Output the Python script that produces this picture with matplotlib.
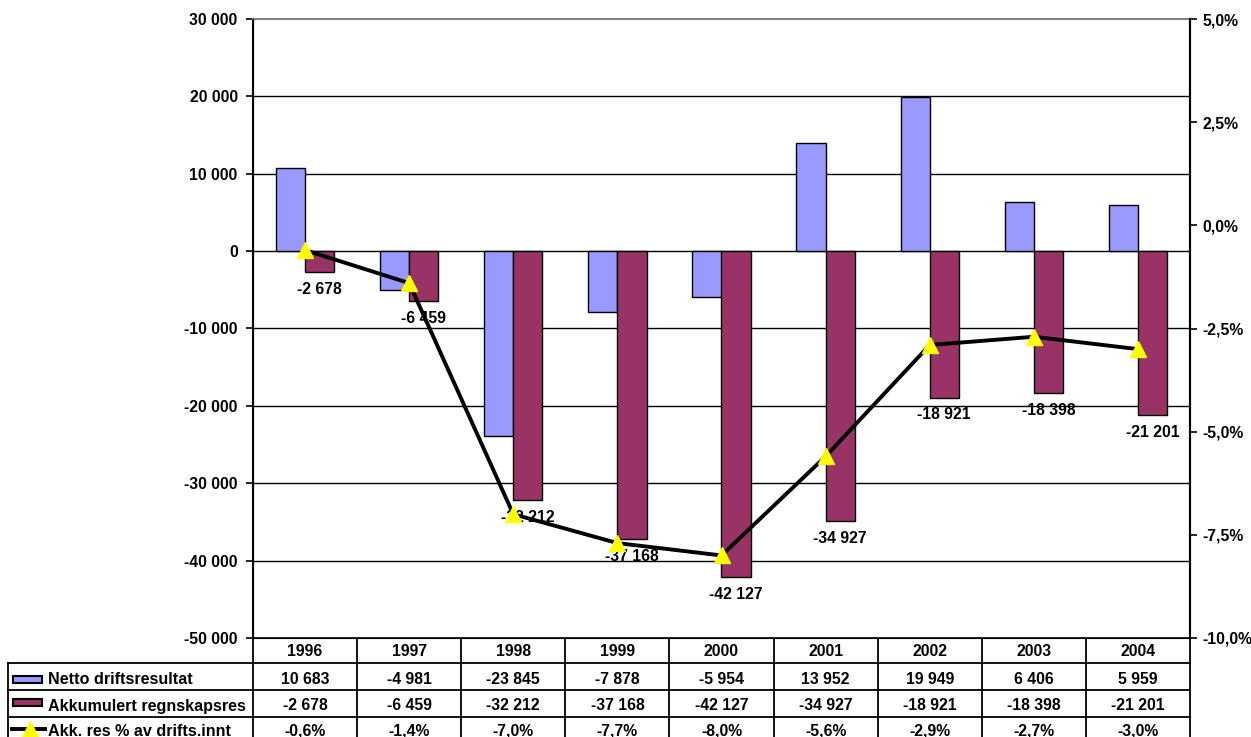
import matplotlib
matplotlib.use('Agg')
import matplotlib.pyplot as plt
from matplotlib.patches import Rectangle
from matplotlib.lines import Line2D
import numpy as np

plt.rcParams['font.family'] = ['Liberation Sans', 'DejaVu Sans']
plt.rcParams['font.weight'] = 'bold'
plt.rcParams['font.size'] = 11.3

years = ['1996', '1997', '1998', '1999', '2000', '2001', '2002', '2003', '2004']
netto = [10683, -4981, -23845, -7878, -5954, 13952, 19949, 6406, 5959]
akkumulert = [-2678, -6459, -32212, -37168, -42127, -34927, -18921, -18398, -21201]
akk_pct = [-0.6, -1.4, -7.0, -7.7, -8.0, -5.6, -2.9, -2.7, -3.0]
row_names = ['Netto driftsresultat', 'Akkumulert regnskapsres', 'Akk. res % av drifts.innt']

blue = '#9999FF'
maroon = '#993366'


def fmt_num(v):
    return '{:,}'.format(v).replace(',', ' ')


def fmt_pct(v):
    return '{:.1f}%'.format(v).replace('.', ',')


W, H = 1251, 737
fig = plt.figure(figsize=(W / 100, H / 100), dpi=100)
L, R, T, B = 253, 1190, 19, 638
ax = fig.add_axes([L / W, 1 - B / H, (R - L) / W, (B - T) / H])

x = np.arange(len(years))
w = 0.28
ax.bar(x - w / 2, netto, w, color=blue, edgecolor='black', linewidth=1, zorder=3)
ax.bar(x + w / 2, akkumulert, w, color=maroon, edgecolor='black', linewidth=1, zorder=3)
for xi, v in zip(x, akkumulert):
    ax.annotate(fmt_num(v), (xi + w / 2, v), xytext=(0, -12.5), textcoords='offset points',
                ha='center', va='center', fontweight='bold', fontsize=11.3, zorder=4)

ax.set_xlim(-0.5, len(years) - 0.5)
ax.set_ylim(-50000, 30000)
ax.set_yticks(np.arange(-50000, 30001, 10000))
ax.set_yticklabels([fmt_num(int(t)) for t in np.arange(-50000, 30001, 10000)])
ax.set_xticks([])
for t in np.arange(-40000, 30000, 10000):
    ax.axhline(t, color='black', linewidth=1, zorder=1)
ax.spines['top'].set_color('#808080')
ax.spines['top'].set_linewidth(1.5)
ax.spines['left'].set_linewidth(1.5)
ax.spines['right'].set_linewidth(1.5)
ax.spines['bottom'].set_linewidth(1.2)
ax.tick_params(axis='y', direction='out', length=5, width=1.2, pad=6)

ax2 = ax.twinx()
ax2.plot(x, akk_pct, color='black', linewidth=2.8, marker='^', markersize=11,
         markerfacecolor='#FFFF00', markeredgecolor='#FFFF00', zorder=5)
ax2.set_ylim(-10, 5)
ticks2 = np.arange(-10, 5.01, 2.5)
ax2.set_yticks(ticks2)
ax2.set_yticklabels([fmt_pct(t) for t in ticks2])
ax2.tick_params(axis='y', direction='out', length=5, width=1.2, pad=4)
ax2.spines['top'].set_visible(False)
ax2.spines['right'].set_linewidth(1.5)

# data table under the chart
tab = fig.add_axes([0, 0, 1, 1], zorder=-1)
tab.set_xlim(0, W)
tab.set_ylim(H, 0)
tab.axis('off')
col_w = (R - L) / len(years)
rows_y = [638, 663, 690, 717, 744]
text_y = [651, 680, 706, 731]
lw = 1.3
for i in range(len(years) + 1):
    tab.plot([L + i * col_w] * 2, [rows_y[0], rows_y[-1]], color='black', linewidth=lw)
tab.plot([8, 8], [rows_y[1], rows_y[-1]], color='black', linewidth=lw)
tab.plot([L, R], [rows_y[0], rows_y[0]], color='black', linewidth=lw)
for yy in rows_y[1:]:
    tab.plot([8, R], [yy, yy], color='black', linewidth=lw)

for i, yr in enumerate(years):
    cx = L + (i + 0.5) * col_w
    tab.text(cx, text_y[0], yr, ha='center', va='center')
    tab.text(cx, text_y[1], fmt_num(netto[i]), ha='center', va='center')
    tab.text(cx, text_y[2], fmt_num(akkumulert[i]), ha='center', va='center')
    tab.text(cx, text_y[3], fmt_pct(akk_pct[i]), ha='center', va='center')

for k, name in enumerate(row_names):
    tab.text(48, text_y[k + 1], name, ha='left', va='center', fontsize=11.6)
tab.add_patch(Rectangle((13, 676), 29, 7, facecolor=blue, edgecolor='black', linewidth=1.5))
tab.add_patch(Rectangle((13, 699), 29, 7, facecolor=maroon, edgecolor='black', linewidth=1.5))
tab.add_line(Line2D([12, 45], [729, 729], color='black', linewidth=2.8))
tab.plot([30], [729], marker='^', markersize=11, markerfacecolor='#FFFF00',
         markeredgecolor='#FFFF00', linestyle='none')

fig.savefig('out.png', dpi=100)
